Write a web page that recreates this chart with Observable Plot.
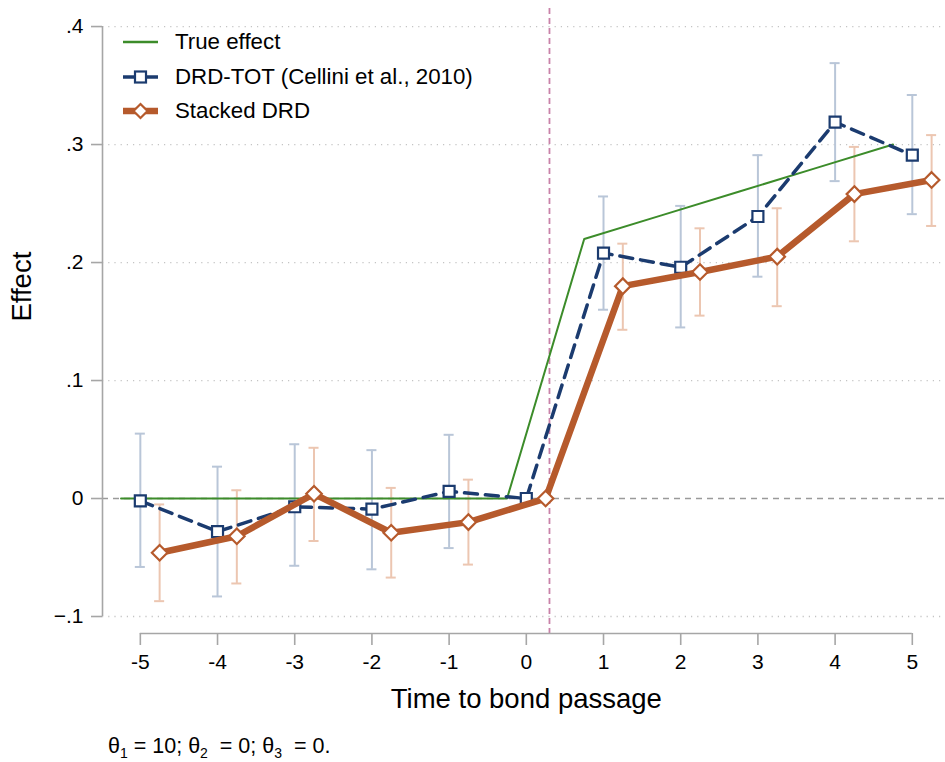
<!DOCTYPE html>
<html><head><meta charset="utf-8">
<script src="https://cdn.jsdelivr.net/npm/d3@7"></script>
<script src="https://cdn.jsdelivr.net/npm/@observablehq/plot@0.6"></script>
<style>
body{margin:0;background:#fff;font-family:"Liberation Sans",Arial,sans-serif;color:#000;}
#wrap{position:relative;width:945px;height:762px;overflow:hidden;}
#legend{position:absolute;left:123px;top:25px;}
.row{display:flex;align-items:center;height:34.5px;font-size:22.3px;white-space:nowrap;}
.row svg{margin-right:17px;flex:none;}
#note{position:absolute;left:108px;top:734px;font-size:21.5px;white-space:nowrap;}
#note sub{font-size:14px;}
</style></head><body>
<div id="wrap"><div id="chart"></div><div id="legend"></div>
<div id="note">θ<sub>1</sub> = 10; θ<sub>2</sub>&nbsp; = 0; θ<sub>3</sub>&nbsp; = 0.</div></div>
<script>
// ---- data ----
const periods     = [-5, -4, -3, -2, -1, 0, 1, 2, 3, 4, 5];
const trueEffect  = [0, 0, 0, 0, 0, 0, 0.22, 0.24, 0.26, 0.28, 0.30];
const totEst      = [-0.002, -0.028, -0.007, -0.009, 0.006, 0.000, 0.208, 0.196, 0.239, 0.319, 0.291];
const totLo       = [-0.058, -0.083, -0.057, -0.060, -0.042, null, 0.160, 0.145, 0.188, 0.269, 0.241];
const totHi       = [0.055, 0.027, 0.046, 0.041, 0.054, null, 0.256, 0.248, 0.291, 0.369, 0.342];
const stackEst    = [-0.046, -0.032, 0.004, -0.029, -0.020, 0.000, 0.180, 0.192, 0.205, 0.258, 0.270];
const stackLo     = [-0.087, -0.072, -0.036, -0.067, -0.056, null, 0.143, 0.155, 0.163, 0.218, 0.231];
const stackHi     = [-0.005, 0.007, 0.043, 0.009, 0.016, null, 0.216, 0.229, 0.246, 0.298, 0.308];
const yTicks      = [-0.1, 0, 0.1, 0.2, 0.3, 0.4];
const gridTicks   = [-0.1, 0.1, 0.2, 0.3, 0.4];
const eventLine   = [0.3];
const seriesNames = ["True effect", "DRD-TOT (Cellini et al., 2010)", "Stacked DRD"];
const xTitle = "Time to bond passage";
const yTitle = "Effect";

// ---- styles / layout ----
const GREEN = "#3c8c2a", NAVY = "#1b3b6f", ORANGE = "#b65a2c";
const NAVY_CI = "#b9c6d8", ORANGE_CI = "#ecc6b1";
const AXIS = "#a6a6a6";
const trueShift = -0.25, stackShift = 0.25, cap = 0.065;
const W = 945, H = 725;
const xDomain = [-5.49, 5.43];
const yDomain = [-0.1144, 0.4153];

const rows = periods.map((t, i) => ({
  t, tru: trueEffect[i], tot: totEst[i], totLo: totLo[i], totHi: totHi[i],
  stk: stackEst[i], stkLo: stackLo[i], stkHi: stackHi[i]
}));
const totCI = rows.filter(d => d.totLo != null);
const stkCI = rows.filter(d => d.stkLo != null);
const yFmt = d => d === 0 ? "0" : d3.format(".1f")(d).replace("0.", ".");

const chart = Plot.plot({
  width: W, height: H,
  marginLeft: 102, marginRight: 0, marginTop: 8, marginBottom: H - 633,
  style: {fontFamily: "'Liberation Sans', Arial, sans-serif", fontSize: "21px", background: "white", color: "black"},
  x: {domain: xDomain},
  y: {domain: yDomain},
  marks: [
    Plot.ruleY(gridTicks, {stroke: "#c4c4c4", strokeDasharray: "1.2,5", strokeWidth: 1.3}),
    Plot.ruleY([0], {stroke: "#9a9a9a", strokeDasharray: "6,5", strokeWidth: 1.3}),
    Plot.ruleX(eventLine, {stroke: "#c982a9", strokeDasharray: "6,4", strokeWidth: 1.8}),
    // CIs DRD-TOT
    Plot.ruleX(totCI, {x: "t", y1: "totLo", y2: "totHi", stroke: NAVY_CI, strokeWidth: 2}),
    Plot.ruleY(totCI, {y: "totLo", x1: d => d.t - cap, x2: d => d.t + cap, stroke: NAVY_CI, strokeWidth: 2}),
    Plot.ruleY(totCI, {y: "totHi", x1: d => d.t - cap, x2: d => d.t + cap, stroke: NAVY_CI, strokeWidth: 2}),
    // CIs stacked
    Plot.ruleX(stkCI, {x: d => d.t + stackShift, y1: "stkLo", y2: "stkHi", stroke: ORANGE_CI, strokeWidth: 2}),
    Plot.ruleY(stkCI, {y: "stkLo", x1: d => d.t + stackShift - cap, x2: d => d.t + stackShift + cap, stroke: ORANGE_CI, strokeWidth: 2}),
    Plot.ruleY(stkCI, {y: "stkHi", x1: d => d.t + stackShift - cap, x2: d => d.t + stackShift + cap, stroke: ORANGE_CI, strokeWidth: 2}),
    // series
    Plot.line(rows, {x: d => d.t + trueShift, y: "tru", stroke: GREEN, strokeWidth: 2}),
    Plot.line(rows, {x: "t", y: "tot", stroke: NAVY, strokeWidth: 3.5, strokeDasharray: "13,8"}),
    Plot.dot(rows, {x: "t", y: "tot", symbol: "square", r: 6.2, stroke: NAVY, strokeWidth: 2.2, fill: "white"}),
    Plot.line(rows, {x: d => d.t + stackShift, y: "stk", stroke: ORANGE, strokeWidth: 6.5}),
    Plot.dot(rows, {x: d => d.t + stackShift, y: "stk", symbol: "diamond2", r: 7, stroke: ORANGE, strokeWidth: 2.2, fill: "white"}),
    // axes
    Plot.ruleX([xDomain[0]], {y1: yTicks[0], y2: yTicks[yTicks.length - 1], stroke: AXIS, strokeWidth: 1.6}),
    Plot.ruleY([yDomain[0]], {x1: periods[0], x2: periods[periods.length - 1], stroke: AXIS, strokeWidth: 1.6}),
    Plot.axisY({ticks: yTicks, tickFormat: yFmt, tickSize: 11, tickPadding: 8, stroke: AXIS, strokeWidth: 1.6, fill: "black", fontSize: 21, label: null}),
    Plot.axisX({ticks: periods, tickFormat: d => String(d), tickSize: 12, tickPadding: 9, stroke: AXIS, strokeWidth: 1.6, fill: "black", fontSize: 21, label: null}),
    Plot.text([xTitle], {x: 0, frameAnchor: "bottom", dy: 74, fontSize: 27.5, text: d => d, fill: "black"}),
    Plot.text([yTitle], {y: 0.15, frameAnchor: "left", dx: -80, rotate: -90, fontSize: 27.5, text: d => d, fill: "black"})
  ]
});
document.getElementById("chart").appendChild(chart);

// ---- legend ----
const swatches = [
  `<svg width="35" height="20"><line x1="0" x2="35" y1="10" y2="10" stroke="${GREEN}" stroke-width="2.5"/></svg>`,
  `<svg width="35" height="20"><line x1="0" x2="35" y1="10" y2="10" stroke="${NAVY}" stroke-width="3.5"/><rect x="12" y="4.5" width="11" height="11" fill="white" stroke="${NAVY}" stroke-width="2.2"/></svg>`,
  `<svg width="35" height="20"><line x1="0" x2="35" y1="10" y2="10" stroke="${ORANGE}" stroke-width="6.5"/><path d="M17.5 3 L24.5 10 L17.5 17 L10.5 10 Z" fill="white" stroke="${ORANGE}" stroke-width="2.2"/></svg>`
];
document.getElementById("legend").innerHTML = seriesNames.map((n, i) =>
  `<div class="row">${swatches[i]}<span>${n}</span></div>`).join("");
</script>
</body></html>
